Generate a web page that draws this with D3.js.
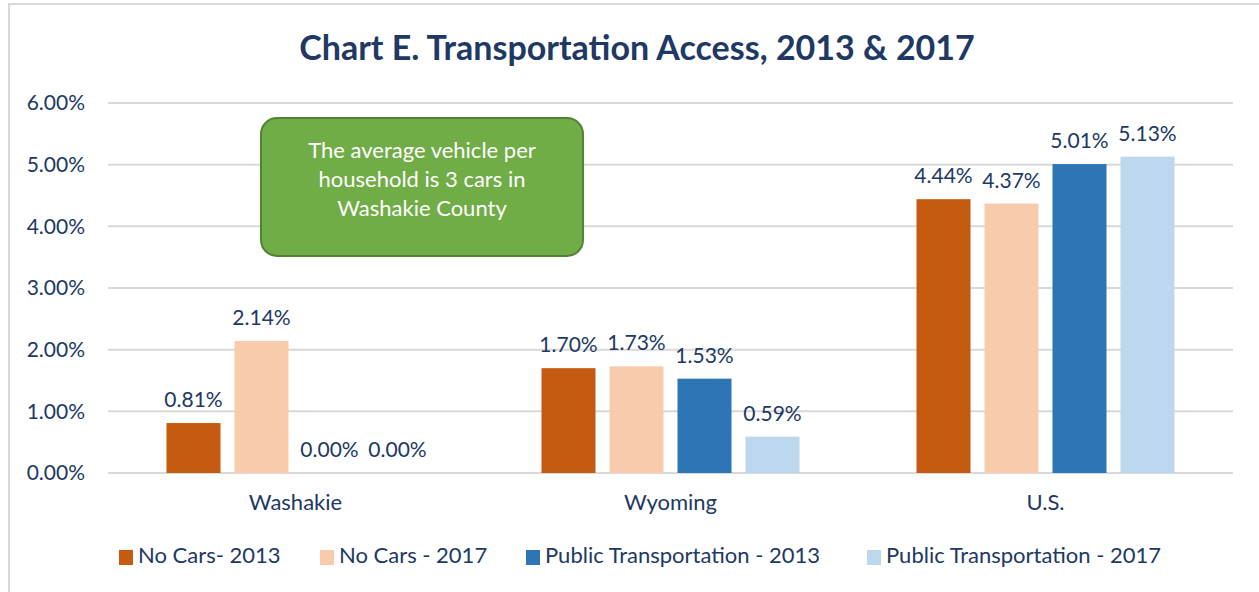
<!DOCTYPE html>
<html><head><meta charset="utf-8">
<script src="https://cdn.jsdelivr.net/npm/d3@7"></script>
<style>body{margin:0;background:#fff;}svg{display:block;font-family:Lato,"Open Sans",sans-serif;}</style>
</head><body>
<svg id="c" width="1259" height="592"></svg>
<script>
const categories = ["Washakie", "Wyoming", "U.S."];
const seriesNames = ["No Cars- 2013", "No Cars - 2017", "Public Transportation - 2013", "Public Transportation - 2017"];
const noCars2013 = [0.81, 1.70, 4.44];
const noCars2017 = [2.14, 1.73, 4.37];
const publicTrans2013 = [0.00, 1.53, 5.01];
const publicTrans2017 = [0.00, 0.59, 5.13];
const yTicks = [0, 1, 2, 3, 4, 5, 6];
const colors = ["#C55A11", "#F8CBAD", "#2E75B6", "#BDD7EE"];
const title = "Chart E. Transportation Access, 2013 & 2017";
const noteLines = ["The average vehicle per", "household is 3 cars in", "Washakie County"];

const series = [noCars2013, noCars2017, publicTrans2013, publicTrans2017];
const textCol = "#203864";
const ff = "Lato,'Open Sans',sans-serif";
const svg = d3.select("#c");

// outer border
svg.append("rect").attr("x", 9).attr("y", 4).attr("width", 1270).attr("height", 600)
  .attr("fill", "none").attr("stroke", "#d9d9d9").attr("stroke-width", 2);

svg.append("text").attr("x", 637).attr("y", 60).attr("text-anchor", "middle")
  .attr("font-size", 34).attr("font-weight", 700).attr("fill", textCol).text(title);

const pLeft = 108, pRight = 1233, pTop = 103, pBottom = 473;
const y = d3.scaleLinear().domain([0, 6]).range([pBottom, pTop]);
const x0 = d3.scaleBand().domain(categories).range([pLeft, pRight]);
const x1 = d3.scaleBand().domain(d3.range(4)).range([0, 258]).paddingInner(14/68);

// grid
svg.append("g").selectAll("line").data(yTicks).join("line")
  .attr("x1", pLeft).attr("x2", pRight).attr("y1", d => y(d)).attr("y2", d => y(d))
  .attr("stroke", "#d9d9d9").attr("stroke-width", 2);

const yAxis = svg.append("g").attr("transform", `translate(${pLeft},0)`)
  .call(d3.axisLeft(y).tickValues(yTicks).tickFormat(d => d3.format(".2f")(d) + "%").tickSize(0).tickPadding(23));
yAxis.select(".domain").remove();
yAxis.selectAll("text").attr("font-size", 21).attr("fill", textCol).attr("font-family", ff);

const xAxis = svg.append("g").attr("transform", `translate(0,${pBottom})`)
  .call(d3.axisBottom(x0).tickSize(0).tickPadding(21));
xAxis.select(".domain").remove();
xAxis.selectAll("text").attr("font-size", 22).attr("fill", textCol).attr("font-family", ff);

const groups = svg.append("g").selectAll("g").data(categories).join("g")
  .attr("transform", c => `translate(${x0(c) + (x0.bandwidth() - 258) / 2},0)`);

groups.each(function(c, ci) {
  const g = d3.select(this);
  series.forEach((s, si) => {
    const v = s[ci];
    g.append("rect").attr("x", x1(si)).attr("width", x1.bandwidth())
      .attr("y", y(v)).attr("height", y(0) - y(v)).attr("fill", colors[si]);
    g.append("text").attr("x", x1(si) + x1.bandwidth() / 2).attr("y", y(v) - 16)
      .attr("text-anchor", "middle").attr("font-size", 21).attr("fill", textCol)
      .text(d3.format(".2f")(v) + "%");
  });
});

// note box
svg.append("rect").attr("x", 261).attr("y", 118).attr("width", 322).attr("height", 138)
  .attr("rx", 16).attr("fill", "#70AD47").attr("stroke", "#548235").attr("stroke-width", 2);
svg.append("g").selectAll("text").data(noteLines).join("text")
  .attr("x", 422).attr("y", (d, i) => 158 + i * 29).attr("text-anchor", "middle")
  .attr("font-size", 22).attr("fill", "#fff").text(d => d);

// legend
const legX = [119, 320, 526, 867];
const leg = svg.append("g").selectAll("g").data(seriesNames).join("g")
  .attr("transform", (d, i) => `translate(${legX[i]},550)`);
leg.append("rect").attr("width", 14).attr("height", 15).attr("fill", (d, i) => colors[i]);
leg.append("text").attr("x", 19).attr("y", 13).attr("font-size", 22).attr("fill", textCol).text(d => d);
</script>
</body></html>
